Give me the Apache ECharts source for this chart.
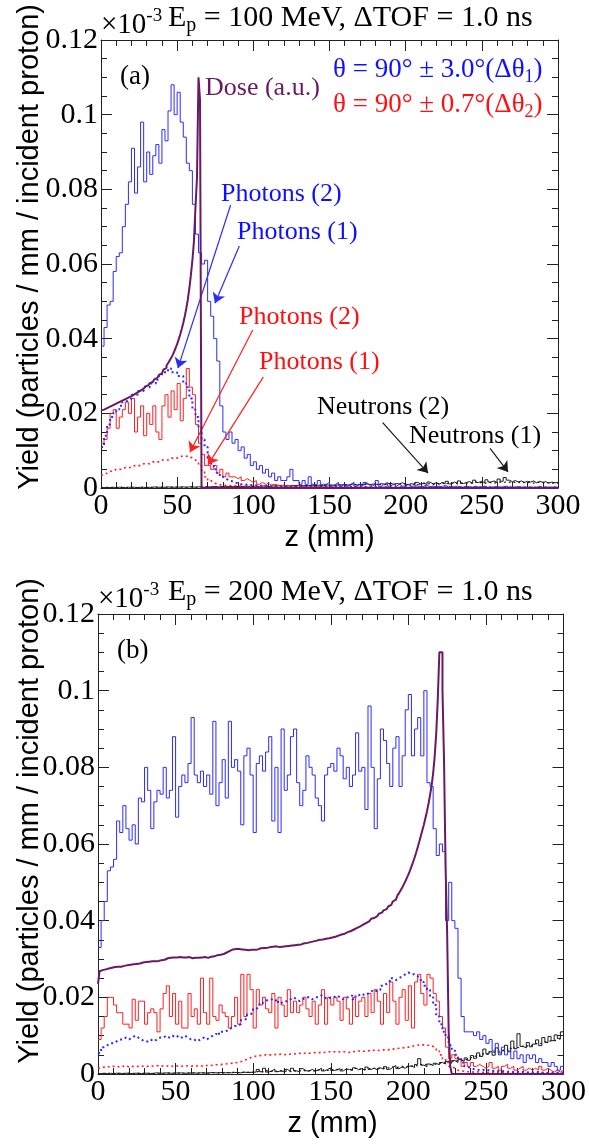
<!DOCTYPE html>
<html><head><meta charset="utf-8">
<script src="https://cdn.jsdelivr.net/npm/echarts@6/dist/echarts.min.js"></script>
<style>html,body{margin:0;padding:0;background:#fff}#c{width:589px;height:1144px}</style>
</head><body><div id="c"></div>
<script>
// ---------------- DATA (values in units of 1e-3) ----------------
const zTicks = [0, 50, 100, 150, 200, 250, 300];
const yTicks = [0, 0.02, 0.04, 0.06, 0.08, 0.1, 0.12];
const binW = 2;      // mm, photon / neutron histograms
const doseBinW = 1;  // mm, dose histogram

// Panel (a): Ep = 100 MeV
const photons1_dth1_a = [
0.038,0.043,0.049,0.050,0.058,0.062,0.063,0.070,0.076,0.082,
0.091,0.079,0.086,0.098,0.082,0.090,0.084,0.089,0.092,0.087,
0.096,0.093,0.101,0.108,0.100,0.106,0.098,0.094,0.087,0.085,
0.076,0.068,0.063,0.060,0.061,0.050,0.046,0.040,0.034,0.022,
0.015,0.013,0.015,0.012,0.013,0.010,0.011,0.008,0.009,0.006,
0.007,0.005,0.006,0.004,0.005,0.003,0.004,0.002,0.003,0.002,
0.002,0.003,0.005,0.002,0.002,0.001,0.002,0.001,0.003,0.001,
0.001,0.002,0.001,0.001,0.0015,0.0005,0.001,0.0015,0.0005,0.001,
0.0005,0.001,0.0015,0.0005,0.001,0.0005,0.0015,0.001,0.0005,0.001,
0.002,0.0005,0.001,0.0015,0.0005,0.001,0.0005,0.001,0.0005,0.0005,
0.001,0.0005,0.0005,0.001,0.0003,0.0005,0.0008,0.0003,0.0005,0.0003,
0.0005,0.0003,0.0008,0.0003,0.0005,0.0002,0.0005,0.0003,0.0002,0.0005,
0.0003,0.0002,0.0005,0.0002,0.0003,0.0005,0.0002,0.0003,0.0002,0.0004,
0.0002,0.0003,0.0005,0.0002,0.0003,0.0002,0.0004,0.0002,0.0003,0.0002,
0.0003,0.0002,0.0002,0.0004,0.0002,0.0003,0.0002,0.0002,0.0003,0.0002];
const photons2_dth1_a = [
0.011,0.014,0.017,0.019,0.020,0.021,0.022,0.023,0.0235,0.024,
0.025,0.025,0.026,0.026,0.027,0.027,0.028,0.028,0.029,0.030,
0.031,0.031,0.032,0.031,0.031,0.030,0.030,0.028,0.027,0.024,
0.021,0.019,0.016,0.013,0.011,0.008,0.0065,0.005,0.004,0.003,
0.0025,0.002,0.0018,0.0015,0.0012,0.001,0.001,0.0009,0.0008,0.0008,
0.0007,0.0007,0.0006,0.0006,0.0005,0.0005,0.0005,0.0004,0.0004,0.0004,
0.0004,0.0003,0.0004,0.0003,0.0003,0.0004,0.0003,0.0003,0.0002,0.0003,
0.0003,0.0002,0.0003,0.0002,0.0003,0.0002,0.0002,0.0003,0.0002,0.0002,
0.0002,0.0003,0.0002,0.0002,0.0002,0.0003,0.0002,0.0002,0.0002,0.0002,
0.0002,0.0002,0.0003,0.0002,0.0002,0.0002,0.0002,0.0002,0.0002,0.0002,
0.0002,0.0002,0.0002,0.0001,0.0002,0.0002,0.0002,0.0001,0.0002,0.0002,
0.0001,0.0002,0.0002,0.0001,0.0002,0.0001,0.0002,0.0002,0.0001,0.0002,
0.0001,0.0002,0.0001,0.0002,0.0001,0.0001,0.0002,0.0001,0.0001,0.0002,
0.0001,0.0001,0.0002,0.0001,0.0001,0.0001,0.0002,0.0001,0.0001,0.0001,
0.0001,0.0001,0.0001,0.0002,0.0001,0.0001,0.0001,0.0001,0.0001,0.0001];
const photons1_dth2_a = [
0.012,0.013,0.016,0.020,0.021,0.016,0.019,0.021,0.023,0.020,
0.024,0.015,0.019,0.022,0.014,0.020,0.017,0.022,0.015,0.013,
0.022,0.025,0.019,0.026,0.021,0.028,0.018,0.024,0.032,0.027,
0.025,0.017,0.012,0.009,0.006,0.006,0.005,0.006,0.004,0.005,
0.003,0.004,0.003,0.003,0.0025,0.003,0.002,0.0025,0.002,0.0015,
0.002,0.001,0.0015,0.001,0.0012,0.0008,0.001,0.0008,0.0006,0.0008,
0.0005,0.0007,0.0005,0.0004,0.0006,0.0004,0.0005,0.0003,0.0004,0.0003,
0.0004,0.0003,0.0003,0.0004,0.0002,0.0003,0.0003,0.0002,0.0003,0.0002,
0.0003,0.0002,0.0002,0.0003,0.0002,0.0002,0.0003,0.0002,0.0002,0.0002,
0.0002,0.0003,0.0002,0.0002,0.0002,0.0002,0.0002,0.0002,0.0003,0.0002,
0.0002,0.0002,0.0002,0.0002,0.0001,0.0002,0.0002,0.0002,0.0001,0.0002,
0.0002,0.0001,0.0002,0.0002,0.0001,0.0002,0.0001,0.0002,0.0002,0.0001,
0.0001,0.0002,0.0001,0.0002,0.0001,0.0002,0.0001,0.0001,0.0002,0.0001,
0.0001,0.0002,0.0001,0.0001,0.0002,0.0001,0.0001,0.0001,0.0002,0.0001,
0.0001,0.0001,0.0002,0.0001,0.0001,0.0001,0.0001,0.0002,0.0001,0.0001];
const photons2_dth2_a = [
0.0035,0.004,0.0045,0.0045,0.005,0.005,0.005,0.0055,0.0055,0.0055,
0.006,0.006,0.006,0.0065,0.0065,0.0065,0.007,0.007,0.007,0.0075,
0.0075,0.0075,0.008,0.008,0.008,0.0085,0.0085,0.0085,0.0085,0.008,
0.0075,0.007,0.006,0.0045,0.003,0.002,0.0015,0.001,0.0009,0.0008,
0.0007,0.0007,0.0006,0.0006,0.0005,0.0005,0.0005,0.0004,0.0004,0.0004,
0.0003,0.0004,0.0003,0.0003,0.0003,0.0002,0.0003,0.0003,0.0002,0.0002,
0.0002,0.0002,0.0003,0.0002,0.0002,0.0002,0.0002,0.0001,0.0002,0.0002,
0.0001,0.0002,0.0001,0.0002,0.0001,0.0002,0.0001,0.0001,0.0002,0.0001,
0.0001,0.0001,0.0002,0.0001,0.0001,0.0001,0.0001,0.0002,0.0001,0.0001,
0.0001,0.0001,0.0001,0.0001,0.0002,0.0001,0.0001,0.0001,0.0001,0.0001,
0.0001,0.0001,0.0001,0.0001,0.0001,0.0001,0.0001,0.0001,0.0001,0.0001,
0.0001,0.0001,0.0001,0.0001,0.0001,0.0001,0.0001,0.0001,0.0001,0.0001,
0.0001,0.0001,0.0001,0.0001,0.0001,0.0001,0.0001,0.0001,0.0001,0.0001,
0.0001,0.0001,0.0001,0.0001,0.0001,0.0001,0.0001,0.0001,0.0001,0.0001,
0.0001,0.0001,0.0001,0.0001,0.0001,0.0001,0.0001,0.0001,0.0001,0.0001];
const neutrons1_a = [
0.0001,0.0002,0.0001,0.0002,0.0001,0.0002,0.0002,0.0001,0.0002,0.0002,
0.0002,0.0001,0.0002,0.0002,0.0001,0.0002,0.0002,0.0003,0.0002,0.0002,
0.0002,0.0003,0.0002,0.0002,0.0003,0.0002,0.0003,0.0002,0.0003,0.0003,
0.0002,0.0003,0.0003,0.0002,0.0003,0.0003,0.0004,0.0003,0.0003,0.0004,
0.0003,0.0004,0.0003,0.0004,0.0004,0.0003,0.0004,0.0005,0.0004,0.0004,
0.0005,0.0004,0.0005,0.0006,0.0004,0.0005,0.0006,0.0005,0.0007,0.0005,
0.0006,0.0005,0.0007,0.0006,0.0008,0.0006,0.0007,0.0006,0.0008,0.0007,
0.0007,0.0008,0.0006,0.0009,0.0007,0.0008,0.0007,0.0009,0.0008,0.001,
0.0008,0.0009,0.0011,0.0008,0.001,0.0009,0.0012,0.0009,0.001,0.0011,
0.0009,0.0012,0.001,0.0011,0.0013,0.001,0.0012,0.0011,0.0014,0.001,
0.0009,0.0012,0.0008,0.0015,0.001,0.0013,0.0009,0.0016,0.0011,0.0014,
0.001,0.0015,0.0012,0.0018,0.0011,0.0016,0.0013,0.0019,0.0012,0.0015,
0.0017,0.0013,0.0021,0.0015,0.0018,0.0014,0.0022,0.0016,0.0019,0.0015,
0.0024,0.0018,0.0028,0.0021,0.0017,0.002,0.0016,0.0019,0.0015,0.0018,
0.0016,0.0019,0.0014,0.0018,0.0015,0.0017,0.0013,0.0016,0.0014,0.0015];
const neutrons2_a = [
0.0001,0.0001,0.0002,0.0001,0.0001,0.0002,0.0001,0.0001,0.0002,0.0001,
0.0002,0.0001,0.0001,0.0002,0.0002,0.0001,0.0002,0.0002,0.0001,0.0002,
0.0002,0.0002,0.0003,0.0002,0.0002,0.0002,0.0003,0.0002,0.0002,0.0003,
0.0002,0.0003,0.0002,0.0003,0.0003,0.0002,0.0003,0.0003,0.0003,0.0004,
0.0003,0.0003,0.0004,0.0003,0.0004,0.0004,0.0003,0.0004,0.0004,0.0005,
0.0004,0.0005,0.0004,0.0005,0.0005,0.0004,0.0006,0.0005,0.0005,0.0006,
0.0005,0.0006,0.0006,0.0005,0.0007,0.0006,0.0006,0.0007,0.0006,0.0007,
0.0007,0.0006,0.0008,0.0007,0.0007,0.0008,0.0007,0.0008,0.0008,0.0007,
0.0009,0.0008,0.0008,0.0009,0.0008,0.0009,0.0009,0.0008,0.001,0.0009,
0.0009,0.001,0.0009,0.001,0.001,0.0009,0.0011,0.001,0.001,0.0011,
0.0008,0.001,0.0012,0.0009,0.0011,0.0013,0.001,0.0012,0.0009,0.0013,
0.0011,0.0014,0.001,0.0013,0.0012,0.0015,0.0011,0.0014,0.0013,0.0012,
0.0014,0.0012,0.0016,0.0013,0.0015,0.0012,0.0016,0.0014,0.0013,0.0015,
0.0016,0.0014,0.0017,0.0015,0.0018,0.0014,0.0016,0.0013,0.0015,0.0014,
0.0015,0.0013,0.0016,0.0014,0.0015,0.0013,0.0014,0.0012,0.0014,0.0013];
const dose_a = [
0.0208,0.0210,0.0212,0.0214,0.0216,0.0218,0.0220,0.0222,0.0224,0.0226,
0.0228,0.0230,0.0232,0.0234,0.0236,0.0238,0.0240,0.0242,0.0244,0.0246,
0.0248,0.0251,0.0253,0.0256,0.0258,0.0261,0.0263,0.0266,0.0269,0.0272,
0.0275,0.0278,0.0281,0.0284,0.0288,0.0291,0.0295,0.0299,0.0303,0.0307,
0.0312,0.0317,0.0322,0.0328,0.0334,0.0341,0.0348,0.0356,0.0365,0.0375,
0.0386,0.0398,0.0411,0.0426,0.0442,0.0460,0.0481,0.0505,0.0535,0.0570,
0.0610,0.0660,0.0750,0.0830,0.1100,0.1040,0,0,0,0,
0,0,0,0,0,0,0,0,0,0, 0,0,0,0,0,0,0,0,0,0, 0,0,0,0,0,0,0,0,0,0,
0,0,0,0,0,0,0,0,0,0, 0,0,0,0,0,0,0,0,0,0, 0,0,0,0,0,0,0,0,0,0,
0,0,0,0,0,0,0,0,0,0, 0,0,0,0,0,0,0,0,0,0, 0,0,0,0,0,0,0,0,0,0,
0,0,0,0,0,0,0,0,0,0, 0,0,0,0,0,0,0,0,0,0, 0,0,0,0,0,0,0,0,0,0,
0,0,0,0,0,0,0,0,0,0, 0,0,0,0,0,0,0,0,0,0, 0,0,0,0,0,0,0,0,0,0,
0,0,0,0,0,0,0,0,0,0, 0,0,0,0,0,0,0,0,0,0, 0,0,0,0,0,0,0,0,0,0,
0,0,0,0,0,0,0,0,0,0, 0,0,0,0,0,0,0,0,0,0, 0,0,0,0,0,0,0,0,0,0,
0,0,0,0,0,0,0,0,0,0, 0,0,0,0,0,0,0,0,0,0];

// Panel (b): Ep = 200 MeV
const photons1_dth1_b = [
0.033,0.040,0.045,0.053,0.054,0.056,0.066,0.063,0.070,0.064,
0.061,0.065,0.060,0.072,0.071,0.080,0.074,0.064,0.071,0.074,
0.073,0.080,0.072,0.074,0.088,0.067,0.075,0.078,0.076,0.081,
0.093,0.078,0.076,0.079,0.075,0.078,0.073,0.092,0.070,0.076,
0.082,0.072,0.092,0.080,0.082,0.079,0.065,0.083,0.085,0.078,
0.063,0.081,0.083,0.079,0.084,0.088,0.066,0.080,0.063,0.090,
0.074,0.078,0.088,0.090,0.076,0.070,0.074,0.083,0.080,0.078,
0.072,0.070,0.066,0.078,0.080,0.081,0.079,0.085,0.083,0.077,
0.080,0.075,0.078,0.089,0.079,0.080,0.069,0.096,0.080,0.064,
0.077,0.090,0.087,0.081,0.075,0.085,0.088,0.075,0.083,0.095,
0.099,0.083,0.090,0.093,0.083,0.100,0.076,0.075,0.064,0.057,
0.060,0.058,0.040,0.050,0.040,0.038,0.025,0.015,0.011,0.011,
0.011,0.010,0.011,0.009,0.010,0.008,0.009,0.006,0.008,0.005,
0.007,0.005,0.006,0.004,0.006,0.004,0.005,0.003,0.005,0.004,
0.005,0.003,0.004,0.003,0.003,0.002,0.003,0.002,0.001,0.002];
const photons2_dth1_b = [
0.0055,0.007,0.0075,0.008,0.008,0.0085,0.009,0.009,0.0095,0.009,
0.0095,0.01,0.0095,0.009,0.0085,0.0085,0.009,0.0085,0.009,0.0095,
0.0095,0.01,0.0095,0.01,0.0095,0.01,0.0095,0.01,0.0095,0.009,
0.009,0.0085,0.009,0.0095,0.009,0.0095,0.01,0.0105,0.01,0.011,
0.011,0.0115,0.012,0.0125,0.0125,0.013,0.014,0.0145,0.0155,0.016,
0.017,0.0175,0.0185,0.019,0.0195,0.0195,0.019,0.0195,0.0185,0.019,
0.019,0.0195,0.02,0.0195,0.019,0.0195,0.02,0.02,0.0195,0.02,
0.02,0.0205,0.02,0.0195,0.02,0.02,0.0205,0.02,0.0195,0.02,
0.02,0.0205,0.0195,0.0205,0.021,0.0205,0.021,0.0215,0.022,0.0215,
0.022,0.023,0.0235,0.024,0.025,0.0245,0.025,0.0255,0.026,0.0265,
0.026,0.026,0.0255,0.025,0.024,0.023,0.022,0.02,0.018,0.015,
0.013,0.011,0.0095,0.0075,0.0065,0.005,0.004,0.003,0.002,0.0015,
0.0013,0.0012,0.001,0.0011,0.0009,0.001,0.0008,0.0009,0.0007,0.0008,
0.0007,0.0006,0.0007,0.0005,0.0006,0.0005,0.0006,0.0004,0.0005,0.0004,
0.0004,0.0005,0.0003,0.0004,0.0003,0.0004,0.0003,0.0003,0.0004,0.0003];
const photons1_dth2_b = [
0.009,0.012,0.015,0.020,0.020,0.018,0.016,0.016,0.013,0.013,
0.012,0.0195,0.014,0.019,0.019,0.013,0.016,0.017,0.016,0.011,
0.017,0.021,0.023,0.015,0.021,0.013,0.019,0.012,0.012,0.021,
0.015,0.017,0.013,0.025,0.016,0.013,0.025,0.015,0.014,0.018,
0.016,0.015,0.012,0.015,0.020,0.013,0.026,0.015,0.026,0.022,
0.012,0.022,0.018,0.020,0.017,0.016,0.021,0.012,0.020,0.018,
0.015,0.022,0.016,0.019,0.016,0.018,0.020,0.017,0.015,0.019,
0.013,0.018,0.022,0.013,0.020,0.018,0.020,0.019,0.014,0.020,
0.017,0.013,0.020,0.015,0.019,0.020,0.015,0.021,0.016,0.022,
0.019,0.013,0.021,0.016,0.024,0.019,0.013,0.020,0.022,0.014,
0.023,0.012,0.024,0.026,0.021,0.018,0.026,0.025,0.021,0.019,
0.015,0.012,0.007,0.004,0.005,0.004,0.004,0.002,0.003,0.002,
0.003,0.002,0.0025,0.002,0.0015,0.002,0.003,0.0015,0.002,0.001,
0.002,0.0025,0.0015,0.002,0.001,0.0015,0.002,0.001,0.0015,0.001,
0.0015,0.001,0.002,0.001,0.0015,0.001,0.0005,0.001,0.0005,0.001];
const photons2_dth2_b = [
0.0015,0.0018,0.002,0.0018,0.002,0.002,0.0018,0.002,0.0022,0.0018,
0.002,0.0019,0.002,0.0021,0.002,0.002,0.0021,0.002,0.0022,0.002,
0.0021,0.002,0.0022,0.002,0.0021,0.0021,0.002,0.0022,0.0021,0.002,
0.0022,0.0021,0.0022,0.002,0.0022,0.0022,0.0023,0.0024,0.0024,0.0025,
0.0026,0.0027,0.0028,0.0029,0.003,0.0032,0.0035,0.0038,0.0042,0.0045,
0.0047,0.0048,0.0049,0.005,0.005,0.005,0.0051,0.005,0.0052,0.0051,
0.005,0.0052,0.0053,0.0052,0.0054,0.0053,0.0055,0.0054,0.0055,0.0056,
0.0055,0.0057,0.0056,0.0058,0.0058,0.0058,0.0057,0.0058,0.0059,0.0057,
0.0056,0.0058,0.0059,0.006,0.0058,0.006,0.0061,0.006,0.0062,0.0061,
0.0062,0.0063,0.0064,0.0063,0.0065,0.0066,0.0067,0.0068,0.0069,0.007,
0.0072,0.0074,0.0075,0.0076,0.0076,0.0075,0.0074,0.0072,0.0068,0.006,
0.005,0.004,0.003,0.002,0.0015,0.001,0.0008,0.0007,0.0006,0.0006,
0.0005,0.0006,0.0005,0.0004,0.0005,0.0004,0.0005,0.0004,0.0004,0.0003,
0.0004,0.0003,0.0004,0.0003,0.0003,0.0004,0.0003,0.0003,0.0002,0.0003,
0.0003,0.0002,0.0003,0.0002,0.0003,0.0002,0.0002,0.0003,0.0002,0.0002];
const neutrons1_b = [
0.0001,0.0002,0.0001,0.0002,0.0001,0.0002,0.0002,0.0001,0.0002,0.0002,
0.0001,0.0002,0.0002,0.0001,0.0002,0.0002,0.0001,0.0002,0.0003,0.0002,
0.0002,0.0003,0.0002,0.0002,0.0003,0.0002,0.0003,0.0002,0.0002,0.0003,
0.0003,0.0002,0.0003,0.0003,0.0002,0.0003,0.0004,0.0003,0.0003,0.0004,
0.0003,0.0004,0.0003,0.0004,0.0004,0.0003,0.0005,0.0004,0.0004,0.0005,
0.0005,0.0012,0.0006,0.0015,0.0005,0.0008,0.0013,0.0006,0.0009,0.0005,
0.0012,0.0007,0.0015,0.0008,0.0006,0.0014,0.0009,0.0007,0.0012,0.0008,
0.001,0.0015,0.0008,0.0012,0.0016,0.0009,0.0011,0.0014,0.0008,0.0013,
0.0012,0.0009,0.0016,0.0011,0.0014,0.001,0.0018,0.0012,0.0015,0.0011,
0.0016,0.0013,0.0019,0.0012,0.0017,0.0022,0.0014,0.0018,0.0015,0.002,
0.0021,0.0017,0.0025,0.004,0.0023,0.0019,0.0026,0.0022,0.0028,0.0024,
0.003,0.0026,0.0033,0.0028,0.0035,0.003,0.0038,0.0033,0.0042,0.0036,
0.0048,0.0041,0.0055,0.0046,0.0065,0.0052,0.0058,0.0049,0.0068,0.0055,
0.0062,0.0075,0.0058,0.0086,0.0066,0.0105,0.0072,0.0068,0.0082,0.0071,
0.0078,0.0089,0.0074,0.0095,0.0082,0.0098,0.0087,0.0102,0.0093,0.011];
const neutrons2_b = [
0.0001,0.0001,0.0002,0.0001,0.0001,0.0002,0.0001,0.0002,0.0001,0.0002,
0.0002,0.0001,0.0002,0.0001,0.0002,0.0002,0.0002,0.0001,0.0002,0.0002,
0.0002,0.0002,0.0003,0.0002,0.0002,0.0003,0.0002,0.0002,0.0003,0.0002,
0.0003,0.0002,0.0003,0.0003,0.0003,0.0002,0.0003,0.0004,0.0003,0.0003,
0.0004,0.0003,0.0004,0.0004,0.0003,0.0004,0.0004,0.0005,0.0004,0.0004,
0.0004,0.0008,0.0005,0.001,0.0006,0.0007,0.0009,0.0005,0.0008,0.0006,
0.0009,0.0006,0.001,0.0007,0.0008,0.0011,0.0007,0.0009,0.001,0.0007,
0.0011,0.0008,0.0012,0.0009,0.0013,0.001,0.0012,0.0009,0.0014,0.0011,
0.0013,0.001,0.0015,0.0012,0.0014,0.0011,0.0016,0.0013,0.0015,0.0014,
0.0016,0.0014,0.0018,0.0015,0.0019,0.0016,0.0018,0.002,0.0017,0.0021,
0.002,0.0023,0.0021,0.0025,0.0022,0.0026,0.0024,0.0027,0.0025,0.0028,
0.0029,0.0031,0.0028,0.0034,0.0032,0.0036,0.0034,0.0039,0.0037,0.0042,
0.0044,0.0048,0.0046,0.0052,0.0055,0.005,0.0058,0.0056,0.006,0.0058,
0.0063,0.0061,0.0067,0.0064,0.007,0.0068,0.0073,0.0071,0.0076,0.0074,
0.0078,0.0081,0.0079,0.0084,0.0083,0.0087,0.0086,0.009,0.0092,0.0096];
const dose_b = [
0.0235,0.0268,0.0271,0.0270,0.0273,0.0272,0.0275,0.0274,0.0277,0.0276,
0.0279,0.0278,0.0280,0.0282,0.0280,0.0283,0.0282,0.0281,0.0284,0.0283,
0.0285,0.0284,0.0286,0.0288,0.0287,0.0289,0.0288,0.0290,0.0291,0.0290,
0.0292,0.0291,0.0293,0.0292,0.0294,0.0295,0.0294,0.0296,0.0295,0.0297,
0.0297,0.0299,0.0298,0.0300,0.0302,0.0301,0.0303,0.0302,0.0304,0.0305,
0.0304,0.0306,0.0305,0.0303,0.0304,0.0302,0.0304,0.0303,0.0305,0.0303,
0.0302,0.0304,0.0303,0.0305,0.0303,0.0302,0.0304,0.0303,0.0305,0.0304,
0.0303,0.0305,0.0306,0.0308,0.0307,0.0309,0.0310,0.0309,0.0311,0.0312,
0.0313,0.0315,0.0317,0.0319,0.0321,0.0323,0.0325,0.0327,0.0326,0.0328,
0.0326,0.0327,0.0325,0.0326,0.0324,0.0325,0.0323,0.0325,0.0324,0.0326,
0.0324,0.0326,0.0325,0.0327,0.0328,0.0327,0.0329,0.0330,0.0329,0.0331,
0.0331,0.0330,0.0332,0.0331,0.0333,0.0332,0.0331,0.0333,0.0332,0.0334,
0.0333,0.0335,0.0334,0.0336,0.0335,0.0337,0.0336,0.0338,0.0337,0.0339,
0.0338,0.0340,0.0341,0.0340,0.0342,0.0343,0.0344,0.0345,0.0346,0.0347,
0.0348,0.0349,0.0350,0.0349,0.0351,0.0352,0.0353,0.0352,0.0354,0.0355,
0.0356,0.0357,0.0358,0.0360,0.0361,0.0362,0.0364,0.0365,0.0366,0.0368,
0.0370,0.0372,0.0373,0.0375,0.0377,0.0379,0.0381,0.0383,0.0385,0.0387,
0.0390,0.0392,0.0394,0.0397,0.0399,0.0402,0.0405,0.0407,0.0410,0.0412,
0.0415,0.0418,0.0421,0.0424,0.0427,0.0430,0.0433,0.0437,0.0441,0.0445,
0.0450,0.0455,0.0460,0.0466,0.0472,0.0479,0.0486,0.0494,0.0502,0.0511,
0.0520,0.0530,0.0541,0.0552,0.0564,0.0577,0.0591,0.0605,0.0620,0.0635,
0.0650,0.0667,0.0685,0.0705,0.0728,0.0752,0.0785,0.0830,0.0890,0.0980,
0.1100,0.1100,0.1000,0.0820,0.0540,0.0370,0.0110,0.0020,0,0,
0,0,0,0,0,0,0,0,0,0, 0,0,0,0,0,0,0,0,0,0, 0,0,0,0,0,0,0,0,0,0,
0,0,0,0,0,0,0,0,0,0, 0,0,0,0,0,0,0,0,0,0, 0,0,0,0,0,0,0,0,0,0,
0,0,0,0,0,0,0,0,0,0];

// ---------------- RENDERING ----------------
const SERIF = 'Liberation Serif';
const SANS = 'Liberation Sans';
const BLUE = '#2b2bff', RED = '#ff2020', PURPLE = '#6a1a62', BLACK = '#1a1a1a';
const TBLUE = '#1010ff', TRED = '#ff1010';
const grids = [
  {left: 101, top: 40, width: 457, height: 448},
  {left: 98, top: 614, width: 469, height: 460}
];

function hist(vals, w) {
  const d = vals.map((v, i) => [i * w, v]);
  d.push([vals.length * w, vals[vals.length - 1]]);
  return d;
}
const axisCol = '#222';
function xAx(g, pos) {
  return {type: 'value', gridIndex: g, position: pos, min: zTicks[0], max: zTicks[zTicks.length - 1],
    interval: zTicks[1] - zTicks[0],
    axisLine: {onZero: false, lineStyle: {color: axisCol, width: 1}},
    axisTick: {inside: true, length: 11, lineStyle: {color: axisCol}},
    minorTick: {show: true, splitNumber: 5, length: 6, lineStyle: {color: axisCol}},
    splitLine: {show: false},
    axisLabel: {show: pos === 'bottom', margin: 3, color: '#000', fontFamily: SERIF, fontSize: 30}};
}
function yAx(g, pos) {
  return {type: 'value', gridIndex: g, position: pos, min: yTicks[0], max: yTicks[yTicks.length - 1],
    interval: yTicks[1] - yTicks[0],
    axisLine: {onZero: false, lineStyle: {color: axisCol, width: 1}},
    axisTick: {inside: true, length: 11, lineStyle: {color: axisCol}},
    minorTick: {show: true, splitNumber: 4, length: 6, lineStyle: {color: axisCol}},
    splitLine: {show: false},
    axisLabel: {show: pos === 'left', margin: 3, color: '#000', fontFamily: SERIF, fontSize: 30,
      formatter: v => String(+(+v).toFixed(3))}};
}
function S(vals, w, g, color, width, type, z) {
  return {type: 'line', xAxisIndex: g * 2, yAxisIndex: g * 2, data: hist(vals, w), step: 'end',
    showSymbol: false, symbol: 'none', clip: true, silent: true, animation: false, z: z,
    lineStyle: {color: color, width: width, type: type}};
}
const dots = [2, 3];
const series = [
  S(neutrons2_a, binW, 0, BLACK, 1.2, dots, 2),
  S(neutrons1_a, binW, 0, BLACK, 1, 'solid', 2),
  S(photons2_dth2_a, binW, 0, RED, 1.6, dots, 3),
  S(photons1_dth2_a, binW, 0, RED, 1, 'solid', 3),
  S(photons2_dth1_a, binW, 0, BLUE, 2, dots, 4),
  S(photons1_dth1_a, binW, 0, BLUE, 1, 'solid', 4),
  S(dose_a, doseBinW, 0, PURPLE, 2, 'solid', 5),
  S(neutrons2_b, binW, 1, BLACK, 1.2, dots, 2),
  S(neutrons1_b, binW, 1, BLACK, 1, 'solid', 2),
  S(photons2_dth2_b, binW, 1, RED, 1.6, dots, 3),
  S(photons1_dth2_b, binW, 1, RED, 1, 'solid', 3),
  S(photons2_dth1_b, binW, 1, BLUE, 2, dots, 4),
  S(photons1_dth1_b, binW, 1, BLUE, 1, 'solid', 4),
  S(dose_b, doseBinW, 1, PURPLE, 2, 'solid', 5)
];

// annotation arrows for panel (a) (data coordinates)
const arrowsA = [
  {from: [85.1, 0.0758], to: [50.5, 0.0321], color: BLUE},
  {from: [90.8, 0.0648], to: [74.8, 0.0495], color: BLUE},
  {from: [99.6, 0.0423], to: [58.4, 0.0096], color: RED},
  {from: [106.5, 0.0297], to: [70.2, 0.0062], color: RED},
  {from: [184.9, 0.0175], to: [214.7, 0.0040], color: BLACK},
  {from: [255.4, 0.0106], to: [267.2, 0.0043], color: BLACK}
];
series.push({type: 'line', xAxisIndex: 0, yAxisIndex: 0, data: [], silent: true, animation: false, z: 6,
  markLine: {silent: true, animation: false, symbol: ['none', 'arrow'], symbolSize: 10,
    label: {show: false},
    data: arrowsA.map(a => [
      {coord: a.from, lineStyle: {color: a.color, width: 1.2, type: 'solid'}, itemStyle: {color: a.color}},
      {coord: a.to}
    ])}});

const rich = {
  m: {fontFamily: SERIF, fontSize: 30, lineHeight: 36, fill: '#000'},
  s: {fontFamily: SERIF, fontSize: 20, lineHeight: 20, verticalAlign: 'bottom', fill: '#000'},
  u: {fontFamily: SERIF, fontSize: 19, lineHeight: 19, verticalAlign: 'top', fill: '#000'},
  x: {fontFamily: SERIF, fontSize: 29, lineHeight: 36, fill: '#000'}
};
function legRich(col) {
  return {m: {fontFamily: SERIF, fontSize: 27, lineHeight: 32, fill: col},
          s: {fontFamily: SERIF, fontSize: 18, lineHeight: 18, verticalAlign: 'bottom', fill: col}};
}
function txt(x, y, text, opt) {
  return {type: 'text', x: x, y: y, silent: true, z: 20,
    style: Object.assign({text: text, fontFamily: SERIF, fontSize: 26, fill: '#000',
      align: 'left', verticalAlign: 'middle'}, opt || {})};
}
const graphics = [];
[0, 1].forEach(g => {
  const gr = grids[g];
  const ep = g === 0 ? '100' : '200';
  graphics.push(txt(gr.left, gr.top + 3, '{x|×10}{u|-3}', {rich: rich, verticalAlign: 'bottom'}));
  graphics.push(txt(168, gr.top - 22, '{m|E}{s|p}{m| = ' + ep + ' MeV, ΔTOF = 1.0 ns}', {rich: rich}));
  graphics.push(txt(gr.left + 19, gr.top + 37, g === 0 ? '(a)' : '(b)', {fontSize: 27}));
  graphics.push({type: 'text', x: 30, y: gr.top - 36, rotation: Math.PI / 2, silent: true, z: 20,
    style: {text: 'Yield (particles / mm / incident proton)', fontFamily: SANS, fontSize: 29,
      fill: '#000', align: 'right', verticalAlign: 'middle'}});
  graphics.push(txt(gr.left + gr.width / 2, gr.top + gr.height + 50, 'z (mm)',
    {fontFamily: SANS, fontSize: 29, align: 'center'}));
});
graphics.push(txt(205, 88, 'Dose (a.u.)', {fill: PURPLE, fontSize: 26}));
graphics.push(txt(333, 70, '{m|θ = 90° ± 3.0°(Δθ}{s|1}{m|)}', {rich: legRich(TBLUE)}));
graphics.push(txt(333, 105, '{m|θ = 90° ± 0.7°(Δθ}{s|2}{m|)}', {rich: legRich(TRED)}));
graphics.push(txt(221, 194, 'Photons (2)', {fill: TBLUE}));
graphics.push(txt(237, 232, 'Photons (1)', {fill: TBLUE}));
graphics.push(txt(239, 317, 'Photons (2)', {fill: TRED}));
graphics.push(txt(259, 362, 'Photons (1)', {fill: TRED}));
graphics.push(txt(317, 407, 'Neutrons (2)', {fill: '#000'}));
graphics.push(txt(409, 436, 'Neutrons (1)', {fill: '#000'}));

const chart = echarts.init(document.getElementById('c'), null, {renderer: 'canvas'});
chart.setOption({
  animation: false,
  backgroundColor: '#fff',
  grid: grids.map(g => Object.assign({containLabel: false}, g)),
  xAxis: [xAx(0, 'bottom'), xAx(0, 'top'), xAx(1, 'bottom'), xAx(1, 'top')],
  yAxis: [yAx(0, 'left'), yAx(0, 'right'), yAx(1, 'left'), yAx(1, 'right')],
  series: series,
  graphic: graphics
});
</script></body></html>
